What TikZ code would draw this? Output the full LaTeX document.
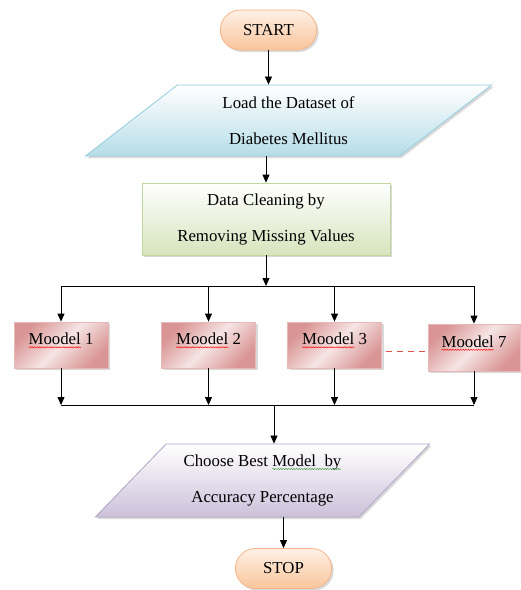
\documentclass[tikz,border=0pt]{standalone}
\usepackage{fontspec}
\setmainfont{Liberation Serif}
\usetikzlibrary{shapes.geometric,shapes.misc,arrows.meta,shadows,decorations.pathmorphing}

\definecolor{termline}{HTML}{F5B68A}
\definecolor{termtop}{HTML}{FEF0E6}
\definecolor{termbot}{HTML}{F9C59B}
\definecolor{loadline}{HTML}{93CDDD}
\definecolor{loadbot}{HTML}{B6DDE8}
\definecolor{cleanline}{HTML}{C3D69B}
\definecolor{cleanbot}{HTML}{D7E4BD}
\definecolor{modelline}{HTML}{E6B9B8}
\definecolor{modeldark}{HTML}{D99594}
\definecolor{modellight}{HTML}{F6E4E4}
\definecolor{chooseline}{HTML}{B3A2C7}
\definecolor{choosebot}{HTML}{CCC1DA}
\definecolor{gapred}{HTML}{D9534F}
\definecolor{wavegreen}{HTML}{3A9A3A}

\newcommand{\boxfont}{\fontsize{16.8}{36}\selectfont}
% widths used to place the spell checker waves
\newlength{\modeltext}\settowidth{\modeltext}{\boxfont Moodel 1}
\newlength{\modelword}\settowidth{\modelword}{\boxfont Moodel}
\newlength{\choosetext}\settowidth{\choosetext}{\boxfont Choose Best Model\ \ by}
\newlength{\chooseword}\settowidth{\chooseword}{\boxfont Choose Best }
\newlength{\choosetail}\settowidth{\choosetail}{\boxfont Model\ \ by}

\tikzset{
    boxbase/.style={font=\boxfont, align=center, line width=0.8pt,
        drop shadow={opacity=0.3, shadow xshift=2pt, shadow yshift=-2pt}},
    terminal/.style={boxbase, rounded rectangle, draw=termline, top color=termtop, bottom color=termbot,
        minimum width=103pt, minimum height=40pt},
    iobox/.style={boxbase, trapezium, trapezium left angle=45, trapezium right angle=135,
        trapezium stretches=true, inner xsep=0pt},
    cleanbox/.style={boxbase, rectangle, draw=cleanline, top color=white, bottom color=cleanbot,
        minimum width=248pt, minimum height=72pt},
    modelbox/.style={boxbase, rectangle, draw=modelline, top color=modeldark, bottom color=modeldark,
        middle color=modellight, shading angle=45, minimum width=94pt, minimum height=46pt,
        text depth=12pt},
    arr/.style={-{Triangle[length=8pt,width=7pt]}, line width=0.8pt},
    link/.style={line width=0.8pt},
    wave/.style={line width=0.45pt, decorate, decoration={snake, amplitude=0.6pt, segment length=2.6pt}},
}

\begin{document}
\begin{tikzpicture}[x=1pt,y=-1pt]
    \useasboundingbox (0,0) rectangle (521,590);
    \node[terminal] (start) at (268.5,30) {START};
    \node[iobox, draw=loadline, top color=white, bottom color=loadbot,
        minimum width=407pt, minimum height=71pt] (load) at (288.5,120.5)
        {Load the Dataset of\\Diabetes Mellitus};
    \node[cleanbox] (clean) at (266,219) {Data Cleaning by\\Removing Missing Values};
    \node[modelbox] (m1) at (61,345) {Moodel 1};
    \node[modelbox] (m2) at (208.5,345) {Moodel 2};
    \node[modelbox] (m3) at (334.5,345) {Moodel 3};
    \node[modelbox, minimum width=92pt, minimum height=47pt] (m7) at (474,347.5) {Moodel 7};
    \node[iobox, draw=chooseline, top color=white, bottom color=choosebot,
        minimum width=335pt, minimum height=73pt] (choose) at (262.5,480.5)
        {Choose Best Model\ \ by\\Accuracy Percentage};
    \node[terminal] (stop) at (283.5,568.5) {STOP};
    %\node at (270,286) {split};
    \coordinate (split) at (270,286);
    \coordinate (join) at (274,405);
    \coordinate (gapa) at ([xshift=4pt, yshift=-6.5pt]m3.east);
    \coordinate (gapb) at ([xshift=-3pt]gapa -| m7.west);

    % dashes between model 3 and model 7
    \foreach \d in {0,11,22,33}
        \fill[gapred] ([xshift=\d pt, yshift=-0.9pt]gapa) rectangle ([xshift=\d pt+6pt, yshift=0.9pt]gapa);

    % spell checker waves
    \foreach \m in {m1,m2,m3,m7}
        \draw[wave, red] ([xshift=-0.5\modeltext, yshift=-2.5pt]\m.base)
            -- ([xshift=-0.5\modeltext+\modelword, yshift=-2.5pt]\m.base);
    \draw[wave, wavegreen] ([xshift=-0.5\choosetext+\chooseword, yshift=11.5pt]choose.center)
        -- ([xshift=-0.5\choosetext+\chooseword+\choosetail, yshift=11.5pt]choose.center);

    \draw[arr] (start.south) -- (start.south |- load.north);
    \draw[arr] (load.south -| clean.north) -- (clean.north);
    \draw[arr] (clean.south) -- (clean.south |- split);
    \draw[link] (m1.north |- split) -- (m7.north |- split);
    \foreach \m in {m1,m2,m3,m7}
        \draw[arr] (\m.north |- split) -- (\m.north);
    \foreach \m in {m1,m2,m3,m7}
        \draw[arr] (\m.south) -- (\m.south |- join);
    \draw[link] (m1.south |- join) -- (m7.south |- join);
    \draw[arr] (join) -- (join |- choose.north);
    \draw[arr] (choose.south -| stop.north) -- (stop.north);
\end{tikzpicture}
\end{document}
